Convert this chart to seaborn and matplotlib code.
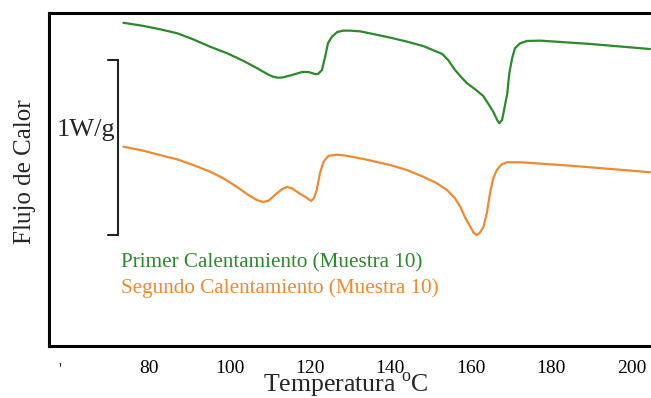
import numpy as np
import pandas as pd
import matplotlib
matplotlib.use("Agg")
import matplotlib.pyplot as plt
import seaborn as sns

# ---- data ----
temp_first = [73.6, 78.6, 82.7, 87.0, 90.9, 95.2, 99.4, 103.4, 106.9, 109.4, 110.8, 112.1, 113.3,
              115.6, 118.1, 119.6, 121.3, 122.0, 123.0, 123.8, 124.5, 125.5, 126.8, 128.3,
              130.0, 132.5, 135.7, 140.0, 144.2, 148.2, 150.6, 152.9, 154.4, 156.1, 157.9,
              159.1, 161.1, 163.1, 164.3, 165.6, 166.6, 167.1, 167.8, 168.3, 169.1, 169.6,
              170.3, 171.0, 172.3, 174.0, 177.3, 189.7, 204.6]
heat_first = [1.847, 1.829, 1.810, 1.787, 1.753, 1.710, 1.673, 1.630, 1.587, 1.554, 1.539, 1.533, 1.535,
              1.549, 1.566, 1.566, 1.554, 1.554, 1.577, 1.653, 1.731, 1.768, 1.794, 1.802,
              1.802, 1.798, 1.783, 1.762, 1.739, 1.714, 1.691, 1.669, 1.634, 1.577, 1.530,
              1.501, 1.467, 1.429, 1.387, 1.339, 1.291, 1.273, 1.291, 1.349, 1.444, 1.558,
              1.644, 1.701, 1.730, 1.743, 1.745, 1.726, 1.697]

temp_second = [73.6, 78.6, 82.7, 86.9, 91.0, 95.2, 98.5, 101.8, 104.3, 106.8, 108.3, 109.7, 111.3,
               113.0, 114.3, 115.5, 117.6, 119.2, 120.3, 121.0, 121.7, 122.5, 123.4, 124.6,
               126.7, 129.2, 133.7, 140.0, 144.1, 148.2, 151.6, 154.1, 156.1, 157.4, 158.6,
               159.9, 160.7, 161.5, 162.3, 163.2, 164.0, 164.8, 165.6, 166.5, 167.7, 169.0,
               172.3, 185.6, 204.6]
heat_second = [1.139, 1.116, 1.091, 1.067, 1.034, 0.996, 0.958, 0.910, 0.869, 0.834, 0.823, 0.830, 0.863,
               0.895, 0.909, 0.901, 0.869, 0.847, 0.829, 0.844, 0.891, 0.987, 1.053, 1.087,
               1.093, 1.087, 1.067, 1.034, 1.006, 0.967, 0.930, 0.891, 0.844, 0.796, 0.735,
               0.682, 0.648, 0.634, 0.648, 0.682, 0.758, 0.873, 0.958, 1.006, 1.038, 1.050,
               1.050, 1.029, 0.993]

series_names = ["Primer Calentamiento (Muestra 10)", "Segundo Calentamiento (Muestra 10)"]
series_colors = ["#2b8a2b", "#f08a30"]
x_ticks = [80, 100, 120, 140, 160, 180, 200]
x_minor = [90, 110, 130, 150, 170, 190]

df = pd.concat([
    pd.DataFrame({"T": temp_first, "Q": heat_first, "serie": series_names[0]}),
    pd.DataFrame({"T": temp_second, "Q": heat_second, "serie": series_names[1]}),
])

sns.set_style("white")
plt.rcParams["font.family"] = ["Liberation Serif", "DejaVu Serif"]
plt.rcParams["mathtext.fontset"] = "custom"
plt.rcParams["mathtext.rm"] = "Liberation Serif"

fig = plt.figure(figsize=(6.51, 3.98), dpi=100)
ax = fig.add_axes([49 / 651, 52 / 398, 603 / 651, 333 / 398])

sns.lineplot(data=df, x="T", y="Q", hue="serie", palette=series_colors,
             hue_order=series_names, ax=ax, legend=False, linewidth=1.6, sort=False)
for ln in ax.get_lines():
    ln.set_solid_joinstyle("round")
    ln.set_solid_capstyle("round")

ax.set_xlim(55.1, 205.1)
ax.set_ylim(0, 333 / 175)
ax.set_yticks([])
ax.set_xticks(x_ticks)
ax.set_xticks(x_minor, minor=True)
ax.tick_params(axis="x", which="both", direction="inout", length=8, width=1.5,
               labelsize=14, pad=6, colors="black")
ax.set_xlabel("")
ax.set_ylabel("")
for s in ["left", "bottom", "top"]:
    ax.spines[s].set_linewidth(2.2)
    ax.spines[s].set_color("black")
ax.spines["right"].set_visible(False)

# scale bar (1 W/g)
ax.plot([69.8, 72.3, 72.3, 69.8], [1.634, 1.634, 0.634, 0.634], color="#222222", lw=1.5,
        solid_joinstyle="miter")
ax.text(64.4, 1.234, "1W/g", fontsize=19, ha="center", va="center")

# legend-like labels
ax.text(73.0, 0.474, series_names[0], color=series_colors[0], fontsize=15.2, va="center")
ax.text(73.0, 0.331, series_names[1], color=series_colors[1], fontsize=15.2, va="center")

fig.text(25 / 651, 1 - 172 / 398, "Flujo de Calor", rotation=90, fontsize=18,
         ha="center", va="center")
fig.text(346 / 651, 1 - 385 / 398, r"Temperatura $^{\rm o}$C", fontsize=18.5,
         ha="center", va="center")
fig.text(60 / 651, 1 - 370 / 398, "'", fontsize=12, ha="center", va="center")

fig.savefig("out.png", dpi=100)
